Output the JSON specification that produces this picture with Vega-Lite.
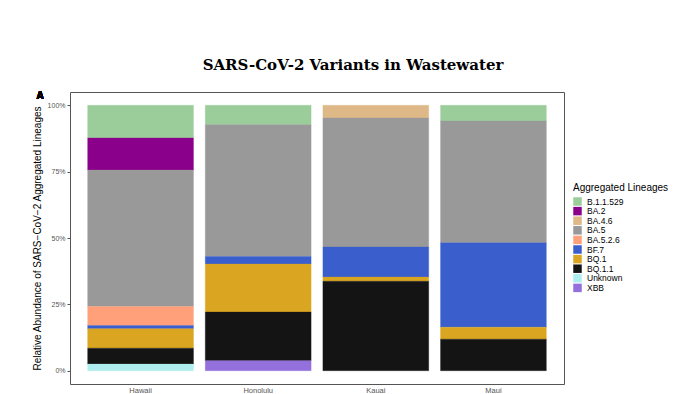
{
  "$schema": "https://vega.github.io/schema/vega-lite/v6.json",
  "width": 494,
  "height": 292,
  "autosize": "none",
  "padding": {"left": 70, "top": 92, "right": 116, "bottom": 10},
  "background": "white",
  "config": {
    "view": {"stroke": "#555555", "strokeWidth": 1},
    "font": "Liberation Sans"
  },
  "title": {
    "text": "SARS-CoV-2 Variants in Wastewater",
    "font": "DejaVu Serif",
    "fontSize": 15,
    "fontWeight": "bold",
    "color": "#000000",
    "anchor": "middle",
    "frame": "group",
    "dx": 36,
    "offset": 18
  },
  "data": {
    "values": [
      {"site": "Hawaii", "lineage": "B.1.1.529", "value": 0.123},
      {"site": "Hawaii", "lineage": "BA.2", "value": 0.121},
      {"site": "Hawaii", "lineage": "BA.5", "value": 0.514},
      {"site": "Hawaii", "lineage": "BA.5.2.6", "value": 0.072},
      {"site": "Hawaii", "lineage": "BF.7", "value": 0.012},
      {"site": "Hawaii", "lineage": "BQ.1", "value": 0.073},
      {"site": "Hawaii", "lineage": "BQ.1.1", "value": 0.060},
      {"site": "Hawaii", "lineage": "Unknown", "value": 0.025},
      {"site": "Honolulu", "lineage": "B.1.1.529", "value": 0.073},
      {"site": "Honolulu", "lineage": "BA.5", "value": 0.497},
      {"site": "Honolulu", "lineage": "BF.7", "value": 0.028},
      {"site": "Honolulu", "lineage": "BQ.1", "value": 0.181},
      {"site": "Honolulu", "lineage": "BQ.1.1", "value": 0.183},
      {"site": "Honolulu", "lineage": "XBB", "value": 0.038},
      {"site": "Kauai", "lineage": "BA.4.6", "value": 0.048},
      {"site": "Kauai", "lineage": "BA.5", "value": 0.486},
      {"site": "Kauai", "lineage": "BF.7", "value": 0.113},
      {"site": "Kauai", "lineage": "BQ.1", "value": 0.016},
      {"site": "Kauai", "lineage": "BQ.1.1", "value": 0.337},
      {"site": "Maui", "lineage": "B.1.1.529", "value": 0.059},
      {"site": "Maui", "lineage": "BA.5", "value": 0.459},
      {"site": "Maui", "lineage": "BF.7", "value": 0.318},
      {"site": "Maui", "lineage": "BQ.1", "value": 0.045},
      {"site": "Maui", "lineage": "BQ.1.1", "value": 0.119}
    ]
  },
  "layer": [
    {
      "mark": {"type": "bar", "strokeWidth": 0.5, "strokeOpacity": 0.6},
      "encoding": {
        "x": {
          "field": "site",
          "type": "nominal",
          "scale": {"paddingInner": 0.1, "paddingOuter": 0.15},
          "axis": {
            "title": null,
            "labelAngle": 0,
            "labelFontSize": 7.5,
            "labelColor": "#555555",
            "labelPadding": 2,
            "ticks": false,
            "domain": false
          }
        },
        "y": {
          "field": "value",
          "type": "quantitative",
          "stack": "zero",
          "scale": {"domain": [-0.05, 1.05], "nice": false, "zero": false},
          "axis": {
            "title": "Relative Abundance of SARS−CoV−2 Aggregated Lineages",
            "titleFontSize": 10,
            "titleFontWeight": "normal",
            "titleColor": "#000000",
            "titlePadding": 5,
            "values": [0, 0.25, 0.5, 0.75, 1],
            "format": ".0%",
            "labelFontSize": 7,
            "labelColor": "#555555",
            "labelPadding": 2,
            "tickColor": "#555555",
            "tickSize": 3,
            "domain": false,
            "grid": false
          }
        },
        "color": {
          "field": "lineage",
          "type": "nominal",
          "scale": {
            "domain": ["B.1.1.529", "BA.2", "BA.4.6", "BA.5", "BA.5.2.6", "BF.7", "BQ.1", "BQ.1.1", "Unknown", "XBB"],
            "range": ["#9BCD9B", "#8B008B", "#DEB887", "#999999", "#FFA07A", "#3A5FCD", "#DAA520", "#141414", "#AEEEEE", "#9370DB"]
          },
          "legend": {
            "title": "Aggregated Lineages",
            "orient": "none",
            "legendX": 503,
            "legendY": 91,
            "titleFontSize": 10,
            "titleFontWeight": "normal",
            "titleColor": "#000000",
            "titlePadding": 4,
            "labelFontSize": 8.5,
            "labelColor": "#000000",
            "labelOffset": 5,
            "symbolType": "square",
            "symbolSize": 72,
            "symbolStrokeWidth": 0,
            "symbolOpacity": 1,
            "rowPadding": 0.6
          }
        },
        "stroke": {"field": "lineage", "type": "nominal", "legend": null, "scale": {
            "domain": ["B.1.1.529", "BA.2", "BA.4.6", "BA.5", "BA.5.2.6", "BF.7", "BQ.1", "BQ.1.1", "Unknown", "XBB"],
            "range": ["#9BCD9B", "#8B008B", "#DEB887", "#999999", "#FFA07A", "#3A5FCD", "#DAA520", "#141414", "#AEEEEE", "#9370DB"]
          }},
        "order": {"field": "lineage", "sort": "descending"}
      }
    },
    {
      "mark": {"type": "text", "text": "A", "fontWeight": "bold", "fontSize": 10, "align": "left", "baseline": "middle", "dx": -104},
      "encoding": {
        "x": {"datum": "Hawaii"},
        "y": {"datum": 1.034}
      }
    }
  ]
}
